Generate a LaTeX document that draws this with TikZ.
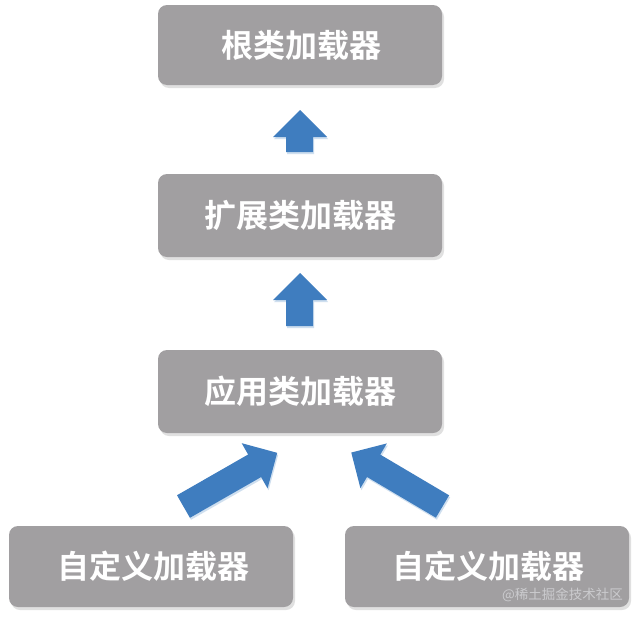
\documentclass[tikz,border=0pt]{standalone}
\usepackage{fontspec}
\newfontfamily\cjk{Noto Sans CJK SC}[BoldFont={* Bold}]
\definecolor{boxgray}{HTML}{A19FA1}
\definecolor{arrowblue}{HTML}{3F7DBF}
\definecolor{wmgray}{HTML}{CBCBCE}
\begin{document}
\begin{tikzpicture}[x=1pt,y=-1pt,
  loader/.style={fill=boxgray, rounded corners=9pt, draw=none},
  shadowbox/.style={fill=black!12, rounded corners=9pt, draw=none},
  label/.style={text=white, font=\cjk\bfseries\fontsize{32}{32}\selectfont, inner sep=0pt},
  bluearrow/.style={fill=arrowblue, draw=none},
  arrowshadow/.style={fill=arrowblue!25, draw=none}]
\useasboundingbox (0,0) rectangle (640,621);
\fill[white] (0,0) rectangle (640,621);
% shadows
\foreach \a/\b/\c/\d in {158/5/442/85, 158/174/442/257, 158/350/442/433, 9/526/293/607, 345/526/629/607}
  \fill[shadowbox] (\a+2,\b+3) rectangle (\c+2,\d+3);
% boxes
\fill[loader] (158,5) rectangle (442,85);
\fill[loader] (158,174) rectangle (442,257);
\fill[loader] (158,350) rectangle (442,433);
\fill[loader] (9,526) rectangle (293,607);
\fill[loader] (345,526) rectangle (629,607);
\node[label] (root) at (301,45) {根类加载器};
\node[label] (ext) at (300,215.5) {扩展类加载器};
\node[label] (app) at (300,391.5) {应用类加载器};
\node[label] (custA) at (153,566.5) {自定义加载器};
\node[label] (custB) at (488,566.5) {自定义加载器};
\node[text=wmgray, font=\cjk\fontsize{13.5}{13.5}\selectfont, inner sep=0pt, anchor=east] (wm) at (623,595) {@稀土掘金技术社区};
% up arrows
\fill[arrowshadow] (287,154) -- (287,139) -- (274,139) -- (301,112) -- (328,139) -- (314,139) -- (314,154) -- cycle;
\fill[bluearrow] (286,152) -- (286,137) -- (273,137) -- (300,110) -- (327,137) -- (313,137) -- (313,152) -- cycle;
\fill[arrowshadow] (287,328) -- (287,302) -- (274,302) -- (301,275) -- (328,302) -- (314,302) -- (314,328) -- cycle;
\fill[bluearrow] (286,326) -- (286,300) -- (273,300) -- (300,273) -- (327,300) -- (313,300) -- (313,326) -- cycle;
% diagonal arrows
\begin{scope}[shift={(184.5,508.5)}, rotate=29.8]
  \fill[arrowshadow] (0,-13) -- (82,-13) -- (82,-26) -- (108,0) -- (82,26) -- (82,13) -- (0,13) -- cycle;
\end{scope}
\begin{scope}[shift={(183.5,506.5)}, rotate=29.8]
  \fill[bluearrow] (0,-13) -- (82,-13) -- (82,-26) -- (108,0) -- (82,26) -- (82,13) -- (0,13) -- cycle;
\end{scope}
\begin{scope}[shift={(443.5,508.5)}, rotate=149.4]
  \fill[arrowshadow] (0,-13) -- (80,-13) -- (80,-26) -- (106,0) -- (80,26) -- (80,13) -- (0,13) -- cycle;
\end{scope}
\begin{scope}[shift={(442.5,506.5)}, rotate=149.4]
  \fill[bluearrow] (0,-13) -- (80,-13) -- (80,-26) -- (106,0) -- (80,26) -- (80,13) -- (0,13) -- cycle;
\end{scope}
\end{tikzpicture}
\end{document}
